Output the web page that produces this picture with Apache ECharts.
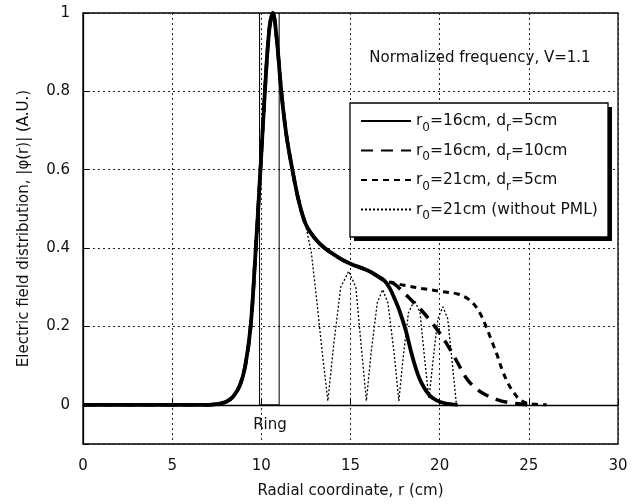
<!DOCTYPE html>
<html>
<head>
<meta charset="utf-8">
<script src="https://cdn.jsdelivr.net/npm/echarts@6/dist/echarts.min.js"></script>
<style>
  html, body { margin: 0; padding: 0; background: #fff; }
  #chart { width: 642px; height: 504px; }
</style>
</head>
<body>
<div id="chart"></div>
<script>
// shared part of all curves (rise to the ring peak and the decaying tail)
const commonR = [0, 7, 7.5, 8, 8.4, 8.8, 9.1, 9.4, 9.65, 9.95, 10.2, 10.45, 10.65, 10.85, 11.12, 11.4, 11.74, 12.1];
const commonV = [0, 0, 0.002, 0.007, 0.02, 0.05, 0.1, 0.2, 0.37, 0.6, 0.8, 0.96, 1.0, 0.94, 0.8, 0.69, 0.6, 0.52];

const pmlHeadR = [12.5, 13.0, 13.55, 14.4, 15.0, 16.0, 16.6, 16.9];
const pmlHeadV = [0.46, 0.425, 0.4, 0.374, 0.36, 0.342, 0.326, 0.317];

// r0=16cm, dr=5cm
const solidR = [17.2, 17.5, 17.75, 18.1, 18.4, 18.7, 19.0, 19.4, 19.8, 20.3, 21.0];
const solidV = [0.298, 0.268, 0.24, 0.19, 0.135, 0.088, 0.054, 0.026, 0.012, 0.004, 0];

// r0=16cm, dr=10cm
const longDashR = [17.4, 18.0, 18.5, 19.0, 19.5, 20.0, 20.5, 21.0, 21.5, 22.0, 22.6, 23.3, 24.0, 25.0];
const longDashV = [0.31, 0.286, 0.263, 0.24, 0.213, 0.183, 0.148, 0.108, 0.068, 0.043, 0.025, 0.012, 0.005, 0];

// r0=21cm, dr=5cm
const shortDashR = [17.5, 18.0, 19.0, 20.0, 21.0, 21.5, 21.9, 22.25, 22.6, 22.9, 23.2, 23.5, 23.8, 24.1, 24.5, 25.0, 26.0];
const shortDashV = [0.31, 0.305, 0.297, 0.29, 0.283, 0.273, 0.258, 0.235, 0.2, 0.165, 0.13, 0.09, 0.058, 0.035, 0.013, 0.003, 0];

// r0=21cm without PML (standing wave)
const noPmlR = [12.5, 12.8, 13.1, 13.4, 13.73,
  14.05, 14.45, 14.9, 15.3, 15.6, 15.89,
  16.15, 16.5, 16.8, 17.1, 17.45, 17.71,
  17.95, 18.25, 18.59, 18.9, 19.15, 19.4,
  19.62, 19.9, 20.18, 20.45, 20.7, 20.93, 21.0];
const noPmlV = [0.455, 0.39, 0.27, 0.14, 0.01,
  0.15, 0.3, 0.341, 0.3, 0.15, 0.01,
  0.13, 0.26, 0.294, 0.26, 0.13, 0.01,
  0.12, 0.235, 0.267, 0.235, 0.12, 0.015,
  0.11, 0.22, 0.25, 0.22, 0.11, 0.005, 0];

// ring outline
const ringR = [9.9, 9.9, 11.0, 11.0];
const ringV = [1, 0, 0, 1];

const seriesNames = ['r0=16cm, dr=5cm', 'r0=16cm, dr=10cm', 'r0=21cm, dr=5cm', 'r0=21cm (without PML)'];
const xTicks = [0, 5, 10, 15, 20, 25, 30];

function pairs(rs, vs) {
    return rs.map((r, i) => [r, vs[i]]);
}

const headPairs = pairs(commonR, commonV).concat(pairs(pmlHeadR, pmlHeadV));
// the unmatched curve hides under the others until it splits off
const noPmlPairs = pairs(commonR, commonV).filter(p => p[0] >= 11.7).concat(pairs(noPmlR, noPmlV));
const FONT = '"DejaVu Sans", sans-serif';

// legend frame (matlab style box with a hard drop shadow)
const box = { x: 350, y: 103, w: 258, h: 134 };

const chart = echarts.init(document.getElementById('chart'));

const option = {
    animation: false,
    backgroundColor: '#fff',
    grid: {
        left: 83, right: 24, top: 13, bottom: 56,
        show: true, borderColor: '#000', borderWidth: 1.3
    },
    xAxis: {
        type: 'value',
        min: xTicks[0], max: xTicks[xTicks.length - 1], interval: 5,
        name: 'Radial coordinate, r (cm)',
        nameLocation: 'middle', nameGap: 40,
        nameTextStyle: { fontFamily: FONT, fontSize: 15, color: '#111' },
        axisLine: { lineStyle: { color: '#000', width: 1.3 } },
        axisTick: { inside: true, length: 6, lineStyle: { color: '#000' } },
        axisLabel: { fontFamily: FONT, fontSize: 15, color: '#111', margin: 15 },
        splitLine: { show: true, lineStyle: { color: '#222', type: [2, 3], width: 1 } }
    },
    yAxis: {
        type: 'value',
        min: -0.1, max: 1, splitNumber: 5,
        name: 'Electric field distribution, |\u03c6(r)| (A.U.)',
        nameLocation: 'middle', nameGap: 51,
        nameTextStyle: { fontFamily: FONT, fontSize: 15, color: '#111' },
        axisLine: { lineStyle: { color: '#000', width: 1.3 } },
        axisTick: { inside: true, length: 6, lineStyle: { color: '#000' } },
        axisLabel: {
            fontFamily: FONT, fontSize: 15, color: '#111', margin: 13,
            formatter: v => (v < -0.01 ? '' : String(+v.toFixed(1)))
        },
        splitLine: { show: true, lineStyle: { color: '#222', type: [2, 3], width: 1 } }
    },
    legend: {
        data: seriesNames,
        orient: 'vertical',
        left: box.x, top: box.y,
        padding: [10, 10, 8, 10],
        itemWidth: 50, itemHeight: 14, itemGap: 9,
        itemStyle: { opacity: 0 },
        formatter: name => '{t|' + name.replace('r0', 'r}{s|0}{t|').replace('dr', 'd}{s|r}{t|') + '}',
        textStyle: {
            rich: {
                t: { fontFamily: FONT, fontSize: 15.5, color: '#111' },
                s: { fontFamily: FONT, fontSize: 12, color: '#111', padding: [13, 0, 0, 0] }
            }
        }
    },
    graphic: [
        {
            type: 'rect', z: 3, silent: true,
            shape: { x: box.x + 4, y: box.y + 4, width: box.w, height: box.h },
            style: { fill: '#000' }
        },
        {
            type: 'rect', z: 3, silent: true,
            shape: { x: box.x, y: box.y, width: box.w, height: box.h },
            style: { fill: '#fff', stroke: '#000', lineWidth: 1.3 }
        },
        {
            type: 'text', x: 480, y: 58,
            style: { text: 'Normalized frequency, V=1.1', font: '15px ' + FONT, fill: '#111', align: 'center', verticalAlign: 'middle' }
        },
        {
            type: 'text', x: 270, y: 425,
            style: { text: 'Ring', font: '15px ' + FONT, fill: '#111', align: 'center', verticalAlign: 'middle' }
        }
    ],
    series: [
        {
            name: 'ring', type: 'line', data: pairs(ringR, ringV),
            symbol: 'none', silent: true,
            lineStyle: { color: '#000', width: 1 }
        },
        {
            name: seriesNames[3], type: 'line',
            data: noPmlPairs,
            symbol: 'none', color: '#000',
            lineStyle: { color: '#000', width: 1.3, type: [2, 2] }
        },
        {
            name: seriesNames[2], type: 'line',
            data: headPairs.concat(pairs(shortDashR, shortDashV)),
            symbol: 'none', smooth: 0.35, color: '#000',
            lineStyle: { color: '#000', width: 3, type: [6, 5] }
        },
        {
            name: seriesNames[1], type: 'line',
            data: headPairs.concat(pairs(longDashR, longDashV)),
            symbol: 'none', smooth: 0.35, color: '#000',
            lineStyle: { color: '#000', width: 3.5, type: [12, 8] }
        },
        {
            name: seriesNames[0], type: 'line',
            data: headPairs.concat(pairs(solidR, solidV)),
            symbol: 'none', smooth: 0.35, color: '#000',
            lineStyle: { color: '#000', width: 3.8 }
        }
    ]
};

chart.setOption(option);
</script>
</body>
</html>
